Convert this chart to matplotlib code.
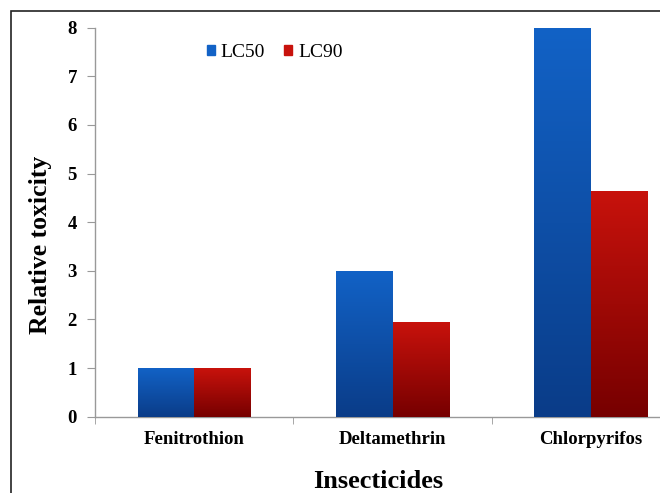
import numpy as np
import matplotlib
matplotlib.use("Agg")
import matplotlib.pyplot as plt
from matplotlib.colors import LinearSegmentedColormap
from matplotlib.patches import Patch, Rectangle

insecticides = ["Fenitrothion", "Deltamethrin", "Chlorpyrifos"]
lc50 = [1.0, 3.0, 8.0]
lc90 = [1.0, 1.95, 4.65]

plt.rcParams["font.family"] = ["Liberation Serif", "DejaVu Serif"]

fig = plt.figure(figsize=(6.6, 4.93), dpi=100)
ax = fig.add_axes([95 / 660, 76.3 / 493, 595 / 660, 389 / 493])

# outer frame of the figure (right/bottom edges fall outside the picture)
fig.patches.append(Rectangle((11 / 660, -0.1), 1.2, (482 / 493) + 0.1, transform=fig.transFigure,
                             fill=False, edgecolor="#222222", linewidth=1.2))

blue_cmap = LinearSegmentedColormap.from_list("b", ["#0a3c88", "#1262c6"])
red_cmap = LinearSegmentedColormap.from_list("r", ["#760000", "#c8120c"])

x = np.arange(len(insecticides))
w = 0.285
b1 = ax.bar(x - w / 2, lc50, w, color="#1060c0", zorder=2)
b2 = ax.bar(x + w / 2, lc90, w, color="#c01010", zorder=2)

grad = np.linspace(0, 1, 256).reshape(-1, 1)
for bars, cmap in [(b1, blue_cmap), (b2, red_cmap)]:
    for p in bars:
        x0, y0 = p.get_x(), p.get_y()
        im = ax.imshow(grad, cmap=cmap, origin="lower", aspect="auto",
                       extent=[x0, x0 + p.get_width(), y0, y0 + p.get_height()], zorder=3)
        im.set_clip_path(p)

ax.set_xlim(-0.5, 2.5)
ax.set_ylim(0, 8)

for s in ["top", "right"]:
    ax.spines[s].set_visible(False)
for s in ["left", "bottom"]:
    ax.spines[s].set_color("#999999")
    ax.spines[s].set_linewidth(1.0)

ax.set_yticks(range(0, 9))
ax.tick_params(axis="y", length=6, color="#999999", labelsize=13.5, pad=7)
ax.set_xticks(x)
ax.set_xticklabels(insecticides)
ax.tick_params(axis="x", length=0, labelsize=13.5, pad=10)
ax.set_xticks([-0.5, 0.5, 1.5], minor=True)
ax.tick_params(axis="x", which="minor", length=5, color="#999999")
for lab in ax.get_yticklabels() + ax.get_xticklabels():
    lab.set_fontweight("bold")

ax.set_ylabel("Relative toxicity", fontsize=18.5, fontweight="bold", va="center")
ax.yaxis.set_label_coords(-0.0924, 0.441)
fig.text(378 / 660, 1 - 481 / 493, "Insecticides", fontsize=19, fontweight="bold",
         ha="center", va="center")

handles = [Patch(color="#1262c6", label="LC50"), Patch(color="#c8120c", label="LC90")]
ax.legend(handles=handles, ncol=2, frameon=False, loc="center left",
          bbox_to_anchor=(0.158, 0.936), fontsize=14, handlelength=0.42, handleheight=0.42,
          handletextpad=0.3, columnspacing=1.0)

fig.savefig("out.png", dpi=100)
